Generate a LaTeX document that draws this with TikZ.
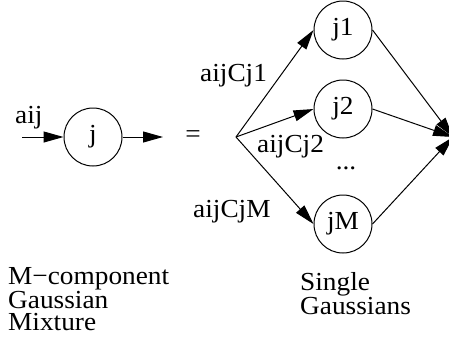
\documentclass[tikz,border=0pt]{standalone}
\usepackage{fontspec}
\setmainfont{Liberation Serif}[FakeStretch=1.05]
\usetikzlibrary{arrows.meta}
\begin{document}
\begin{tikzpicture}[x=1pt,y=-1pt,
  every node/.style={font=\fontsize{26}{21.5}\selectfont},
  unit/.style={draw,circle,minimum size=58pt,inner sep=0pt,line width=1pt},
  lbl/.style={inner sep=0pt,anchor=base west},
  conn/.style={line width=1pt,-{Triangle[length=20pt,width=11pt]}}]
  \clip (0,0) rectangle (449,338);
  % mixture unit and its input/output
  \node[unit] (j) at (93,137) {j};
  \coordinate (in) at (22,137);
  \coordinate (out) at (163,137);
  \draw[conn] (in) -- (j.west);
  \draw[conn] (j.east) -- (out);
  \node[lbl] (aij) at (15,123) {aij};
  \node[inner sep=0pt] (eq) at (193,137) {=};
  % single gaussians
  \coordinate (split) at (236,137);
  \node[unit] (j1) at (343,30) {j1};
  \node[unit] (j2) at (343,109) {j2};
  \node[unit] (jM) at (343,224) {jM};
  \node[inner sep=0pt] (dots) at (346,168) {...};
  \draw[conn] (split) -- (j1.west);
  \draw[conn] (split) -- (j2.west);
  \draw[conn] (split) -- (jM.west);
  \node[lbl] (w1) at (200,81) {aijCj1};
  \node[lbl] (w2) at (257,152) {aijCj2};
  \node[lbl] (wM) at (193,217) {aijCjM};
  % summing point at the right edge
  \coordinate (sum) at (453,137);
  \draw[conn] (j1.east) -- (sum);
  \draw[conn] (j2.east) -- (sum);
  \draw[conn] (jM.east) -- (sum);
  % captions (base anchor sits on the last line)
  \node[lbl,align=left] (cap1) at (8,330) {M−component\\Gaussian\\Mixture};
  \node[lbl,align=left] (cap2) at (300,314) {Single\\Gaussians};
\end{tikzpicture}
\end{document}
